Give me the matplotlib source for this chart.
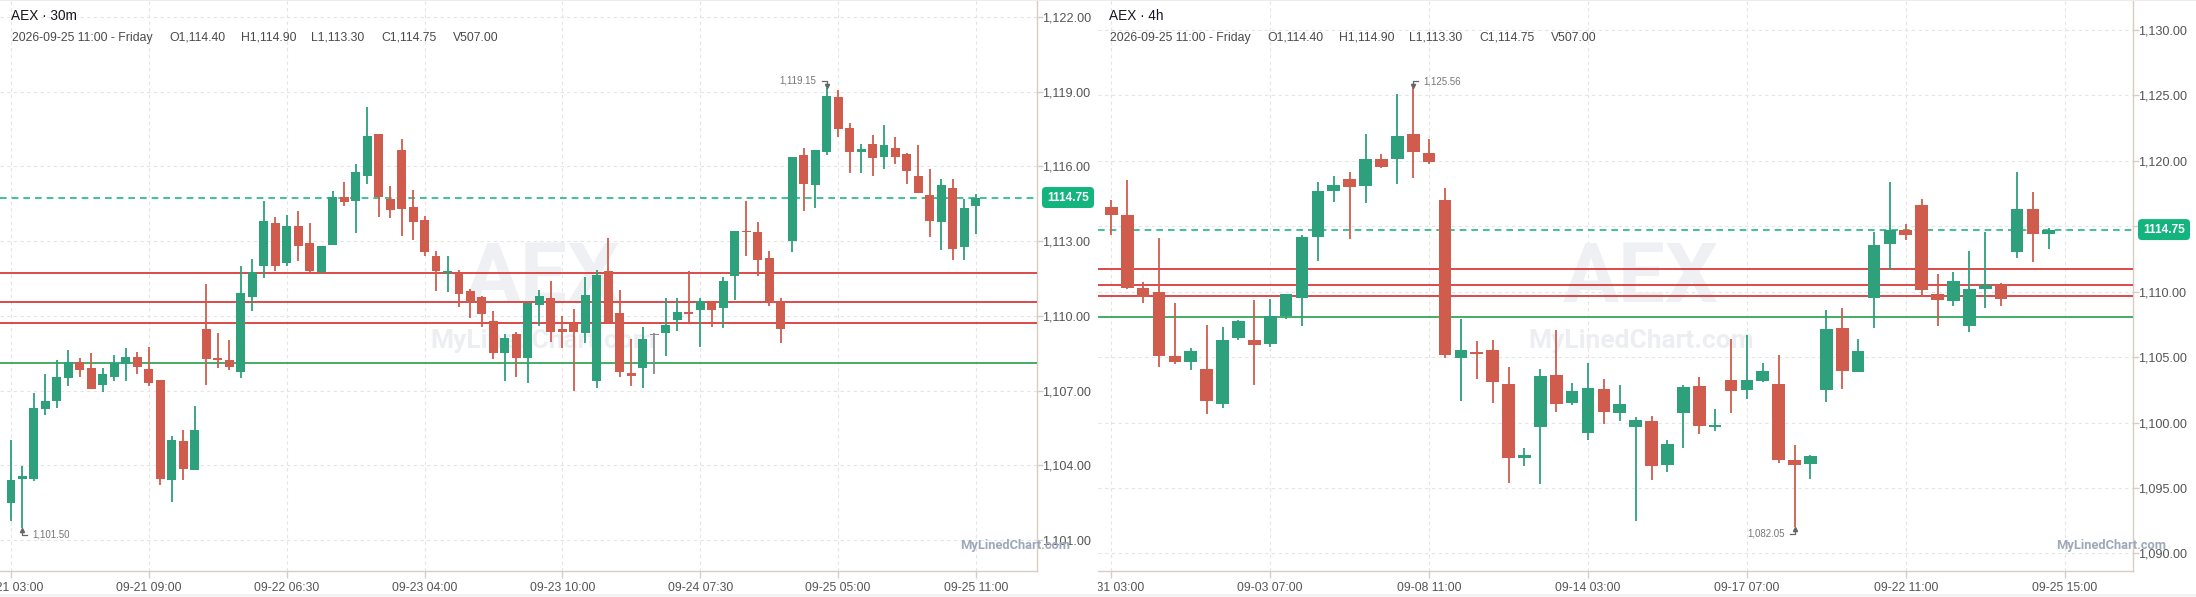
import matplotlib
matplotlib.use('Agg')
import matplotlib.pyplot as plt
from matplotlib.patches import FancyBboxPatch, Rectangle
from matplotlib.transforms import Bbox, TransformedBbox, IdentityTransform
from matplotlib.lines import Line2D

# ---------------- data ----------------
symbol = 'AEX'
header_date = '2026-09-25 11:00 - Friday'
header_ohlcv = ['O1,114.40', 'H1,114.90', 'L1,113.30', 'C1,114.75', 'V507.00']
last_price = 1114.75
red_levels = [1111.70, 1110.55, 1109.70]
green_level = 1108.10

m30_open = [1102.50, 1103.46, 1103.45, 1106.27, 1106.60, 1107.52, 1108.15, 1107.91, 1107.24, 1107.56,
            1108.05, 1108.35, 1107.87, 1107.42, 1103.42, 1104.98, 1103.83, 1109.47, 1108.31, 1108.23,
            1107.76, 1110.77, 1112.01, 1113.73, 1112.14, 1113.61, 1112.92, 1111.77, 1112.86, 1114.76,
            1114.62, 1115.63, 1117.30, 1114.69, 1116.66, 1114.37, 1113.85, 1112.40, 1111.73, 1111.71,
            1111.00, 1110.76, 1109.79, 1108.52, 1109.27, 1108.30, 1110.42, 1110.70, 1109.49, 1109.68,
            1109.30, 1107.40, 1111.78, 1110.12, 1107.72, 1107.90, 1109.25, 1109.30, 1109.83, 1110.17,
            1110.23, 1110.50, 1110.31, 1111.59, 1113.42, 1113.35, 1112.34, 1110.50, 1113.00, 1116.44,
            1115.25, 1116.58, 1118.77, 1117.53, 1116.58, 1116.88, 1116.38, 1116.72, 1116.48, 1115.60,
            1114.84, 1113.76, 1115.12, 1112.76, 1114.40]
m30_high = [1105.02, 1103.99, 1106.92, 1107.67, 1108.21, 1108.63, 1108.31, 1108.52, 1107.91, 1108.43,
            1108.71, 1108.56, 1108.75, 1107.42, 1105.18, 1105.42, 1106.38, 1111.28, 1109.30, 1109.03,
            1112.00, 1112.28, 1114.61, 1113.97, 1114.05, 1114.21, 1113.73, 1112.80, 1115.01, 1115.37,
            1116.10, 1118.38, 1117.30, 1115.21, 1117.10, 1115.05, 1114.01, 1112.62, 1112.42, 1111.85,
            1111.08, 1110.81, 1110.19, 1109.28, 1109.35, 1110.50, 1111.03, 1111.38, 1110.01, 1110.29,
            1111.54, 1111.82, 1113.13, 1111.02, 1109.05, 1109.55, 1109.32, 1110.71, 1110.71, 1111.80,
            1110.71, 1110.60, 1111.57, 1113.39, 1114.63, 1113.75, 1112.59, 1110.70, 1116.36, 1116.72,
            1116.66, 1119.15, 1119.08, 1117.73, 1116.88, 1117.25, 1117.65, 1117.17, 1116.52, 1116.84,
            1115.88, 1115.48, 1115.48, 1114.71, 1114.90]
m30_low = [1101.78, 1101.50, 1103.38, 1106.03, 1106.31, 1107.20, 1107.56, 1107.08, 1106.93, 1107.40,
           1107.40, 1107.68, 1107.20, 1103.22, 1102.54, 1103.42, 1103.83, 1107.24, 1107.91, 1107.84,
           1107.52, 1110.21, 1111.53, 1111.81, 1112.01, 1112.22, 1111.71, 1111.71, 1112.86, 1114.42,
           1113.34, 1115.31, 1113.98, 1113.94, 1113.22, 1113.06, 1112.42, 1111.01, 1110.97, 1110.37,
           1109.93, 1109.57, 1108.28, 1107.40, 1107.56, 1107.30, 1109.59, 1108.94, 1108.70, 1107.00,
           1108.90, 1107.10, 1109.70, 1107.54, 1107.20, 1107.10, 1107.67, 1108.38, 1109.38, 1109.75,
           1108.74, 1109.55, 1109.50, 1110.63, 1112.40, 1111.59, 1110.39, 1108.89, 1112.56, 1114.21,
           1114.33, 1116.46, 1117.18, 1115.73, 1115.73, 1115.61, 1115.89, 1116.08, 1115.29, 1114.93,
           1113.16, 1112.64, 1112.24, 1112.24, 1113.30]
m30_close = [1103.41, 1103.57, 1106.30, 1106.58, 1107.55, 1108.15, 1107.84, 1107.08, 1107.67, 1108.11,
             1108.35, 1107.96, 1107.32, 1103.46, 1105.02, 1103.87, 1105.42, 1108.28, 1108.24, 1107.96,
             1110.92, 1111.76, 1113.81, 1112.01, 1113.61, 1112.82, 1111.81, 1112.80, 1114.76, 1114.58,
             1115.78, 1117.22, 1114.78, 1114.26, 1114.30, 1113.78, 1112.58, 1111.81, 1111.81, 1110.88,
             1110.54, 1110.07, 1108.52, 1109.11, 1108.32, 1110.50, 1110.78, 1109.34, 1109.34, 1109.34,
             1110.82, 1111.62, 1109.75, 1107.74, 1107.58, 1109.05, 1109.25, 1109.63, 1110.17, 1110.09,
             1110.60, 1110.23, 1111.38, 1113.39, 1113.36, 1112.26, 1110.56, 1109.46, 1116.36, 1115.29,
             1116.66, 1118.81, 1117.50, 1116.58, 1116.68, 1116.33, 1116.84, 1116.38, 1115.81, 1114.93,
             1113.80, 1115.24, 1112.68, 1114.31, 1114.75]
m30_tick_pos = [0, 12, 24, 36, 48, 60, 72, 84]
m30_tick_labels = ['09-21 03:00', '09-21 09:00', '09-22 06:30', '09-23 04:00',
                   '09-23 10:00', '09-24 07:30', '09-25 05:00', '09-25 11:00']
m30_yticks = [1101, 1104, 1107, 1110, 1113, 1116, 1119, 1122]
m30_marks = [(71, 1119.15, '1,119.15', 'high', 'left'), (1, 1101.50, '1,101.50', 'low', 'right')]

h4_open = [1116.49, 1115.89, 1110.27, 1109.96, 1105.10, 1104.59, 1104.11, 1101.41, 1106.49, 1106.32,
           1106.04, 1108.11, 1109.53, 1114.16, 1117.73, 1118.62, 1118.11, 1120.14, 1120.16, 1122.04,
           1120.59, 1117.03, 1104.97, 1105.41, 1105.56, 1102.97, 1097.30, 1099.66, 1103.66, 1101.48,
           1099.20, 1102.59, 1100.74, 1099.67, 1100.10, 1096.77, 1100.74, 1102.77, 1099.67, 1103.23,
           1102.49, 1103.15, 1102.92, 1097.15, 1096.85, 1102.49, 1107.19, 1103.86, 1109.50, 1113.62,
           1114.74, 1116.65, 1109.86, 1109.28, 1107.37, 1110.19, 1110.52, 1113.01, 1116.34, 1114.40]
h4_high = [1117.03, 1118.57, 1110.72, 1114.14, 1109.13, 1105.71, 1107.46, 1107.30, 1107.84, 1109.35,
           1109.43, 1109.81, 1114.37, 1118.39, 1118.85, 1119.15, 1122.06, 1120.52, 1125.08, 1125.56,
           1121.66, 1117.94, 1107.91, 1106.24, 1106.32, 1104.27, 1098.04, 1104.11, 1107.08, 1103.05,
           1104.57, 1103.35, 1102.85, 1100.43, 1100.48, 1098.65, 1102.85, 1103.46, 1101.02, 1106.35,
           1106.66, 1104.52, 1105.13, 1098.27, 1097.53, 1108.64, 1108.79, 1106.35, 1114.59, 1118.40,
           1115.20, 1117.10, 1111.38, 1111.54, 1113.14, 1114.59, 1110.70, 1119.16, 1117.64, 1114.90]
h4_low = [1114.32, 1110.19, 1109.15, 1104.22, 1104.44, 1103.99, 1100.65, 1101.10, 1106.34, 1102.85,
          1105.81, 1107.94, 1107.41, 1112.34, 1116.87, 1114.01, 1116.75, 1119.48, 1118.27, 1118.72,
          1119.78, 1104.90, 1101.63, 1103.35, 1101.48, 1095.41, 1096.70, 1095.33, 1100.80, 1101.33,
          1098.67, 1099.89, 1100.13, 1092.49, 1095.61, 1096.24, 1098.07, 1099.14, 1099.36, 1100.74,
          1101.80, 1103.07, 1096.93, 1092.05, 1095.68, 1101.58, 1102.57, 1103.86, 1107.22, 1111.69,
          1113.93, 1109.58, 1107.37, 1108.89, 1106.91, 1108.74, 1108.89, 1112.55, 1112.25, 1113.30]
h4_close = [1115.84, 1110.27, 1109.61, 1105.05, 1104.59, 1105.48, 1101.63, 1106.32, 1107.76, 1105.89,
            1108.11, 1109.81, 1114.22, 1117.71, 1118.16, 1118.04, 1120.14, 1119.56, 1121.89, 1120.70,
            1119.94, 1105.13, 1105.56, 1105.25, 1103.08, 1097.30, 1097.51, 1103.58, 1101.41, 1102.44,
            1102.67, 1100.80, 1101.40, 1100.18, 1096.65, 1098.35, 1102.69, 1099.75, 1099.82, 1102.41,
            1103.23, 1103.91, 1097.15, 1096.77, 1097.43, 1107.12, 1103.94, 1105.44, 1113.60, 1114.74,
            1114.31, 1110.11, 1109.35, 1110.85, 1110.17, 1110.52, 1109.43, 1116.34, 1114.38, 1114.75]
h4_tick_pos = [0, 10, 20, 30, 40, 50, 60]
h4_tick_labels = ['08-31 03:00', '09-03 07:00', '09-08 11:00', '09-14 03:00',
                  '09-17 07:00', '09-22 11:00', '09-25 15:00']
h4_yticks = [1090, 1095, 1100, 1105, 1110, 1115, 1120, 1125, 1130]
h4_marks = [(19, 1125.56, '1,125.56', 'high', 'right'), (43, 1092.05, '1,082.05', 'low', 'left')]

# ---------------- style ----------------
W, H = 2196, 597
GREEN = '#2ea07b'
RED = '#d05c4e'
GRAY = '#8a8a8a'
AXC = '#d8cdc1'
LBL = '#555555'
FONT = 'Liberation Sans'
plt.rcParams['font.family'] = [FONT, 'DejaVu Sans']

fig = plt.figure(figsize=(W / 100, H / 100), dpi=100)
fig.patch.set_facecolor('white')
ID = IdentityTransform()

# thin top line and bottom band
fig.add_artist(Rectangle((0, H - 1), W, 1, transform=ID, fc='#ececec', ec='none'))
fig.add_artist(Rectangle((0, 0), W, 3, transform=ID, fc='#f3f3f3', ec='none'))


def panel(px0, pxr, panel_x1, xlim, ylim, o, h, l, c, tpos, tlabels, yticks, interval, marks,
          body_w, min_body_px):
    ax = fig.add_axes([px0 / W, 26 / H, (pxr - px0) / W, 571 / H])
    ax.set_facecolor('none')
    ax.set_xlim(*xlim)
    ax.set_ylim(*ylim)
    ppu = 571 / (ylim[1] - ylim[0])
    min_h = min_body_px / ppu
    for i, (oo, hh, ll, cc) in enumerate(zip(o, h, l, c)):
        col = GREEN if cc > oo else (RED if cc < oo else GRAY)
        ax.vlines(i, ll, hh, color=col, lw=1.3, zorder=3)
        ht = abs(cc - oo)
        bot = min(oo, cc)
        if ht < min_h:
            bot -= (min_h - ht) / 2
            ht = min_h
        ax.bar(i, ht, bottom=bot, width=body_w, color=col, lw=0, zorder=4)
    for v in red_levels:
        ax.axhline(v, color='#d62a2a', lw=1.2, zorder=2.6)
    ax.axhline(green_level, color='#23a04d', lw=1.2, zorder=2.6)
    ax.axhline(last_price, color='#22b585', lw=1.2, ls=(0, (4, 3)), zorder=2.7)

    ax.set_xticks(tpos)
    ax.set_xticklabels(tlabels)
    ax.yaxis.tick_right()
    ax.set_yticks(yticks)
    ax.set_yticklabels([f'{v:,.2f}' for v in yticks])
    ax.tick_params(axis='x', length=5, width=1, color=AXC, pad=3, labelsize=8.7, labelcolor=LBL)
    ax.tick_params(axis='y', length=4, width=1, color=AXC, pad=0, labelsize=9.1, labelcolor=LBL)
    ax.grid(True, color='#e4e4e4', lw=0.8, ls=(0, (3, 3)))
    ax.set_axisbelow(True)
    for s in ['top', 'left']:
        ax.spines[s].set_visible(False)
    for s in ['right', 'bottom']:
        ax.spines[s].set_color(AXC)
        ax.spines[s].set_linewidth(1)
    clipbox = TransformedBbox(Bbox.from_extents(px0 / W, 0, panel_x1 / W, 1), fig.transFigure)
    for t in ax.get_xticklabels():
        t.set_clip_box(clipbox)
        t.set_clip_on(True)

    # current price tag position; tick labels hidden under the tag
    yd = ax.transData.transform((0, last_price))[1]
    for v, t in zip(yticks, ax.get_yticklabels()):
        if abs(ax.transData.transform((0, v))[1] - yd) < 14:
            t.set_visible(False)

    # watermark (behind candles)
    cx = (px0 + panel_x1) / 2 - 6
    ax.text(cx, H - 302, symbol, transform=ID, ha='center', va='baseline', fontsize=60,
            fontweight='bold', family='Roboto', color='#eff0f3', zorder=1, clip_on=False)
    ax.text(cx, H - 348, 'MyLinedChart.com', transform=ID, ha='center', va='baseline', fontsize=19,
            fontweight='bold', family='Roboto', color='#eceef2', zorder=1, clip_on=False)

    # small brand label bottom right
    fig.text(pxr + 33, H - 549, 'MyLinedChart.com', transform=ID, ha='right', va='baseline',
             fontsize=9.3, fontweight='bold', family='Roboto', color='#9da8bb')

    # title and header
    fig.text(px0 + 11, H - 16, f'{symbol} · {interval}', transform=ID, ha='left', va='center',
             fontsize=9.8, color='#131722')
    offs = [0, 157, 229, 299.5, 369, 440.5]
    for off, s in zip(offs, [header_date] + header_ohlcv):
        fig.text(px0 + 12 + off, H - 38, s, transform=ID, ha='left', va='center',
                 fontsize=8.8, color='#4a4a4a')

    # current price tag
    bx = pxr + 5
    fig.add_artist(FancyBboxPatch((bx, yd - 10.5), 52, 21, boxstyle='round,pad=0,rounding_size=4',
                                  transform=ID, fc='#14b47f', ec='none', zorder=5))
    fig.text(bx + 26, yd, f'{last_price:.2f}', transform=ID, ha='center', va='center',
             fontsize=8.6, fontweight='bold', color='white', zorder=6)

    # high / low markers
    for i, price, label, kind, side in marks:
        x, y = ax.transData.transform((i, price))
        sgn = 1 if kind == 'high' else -1
        tip = y + sgn * 2
        lev = y + sgn * 7
        dx = -5 if side == 'left' else 5
        fig.add_artist(Line2D([x + dx, x, x], [lev, lev, tip], transform=ID, color='#666666',
                              lw=0.9, zorder=6))
        fig.add_artist(Line2D([x], [tip], transform=ID, marker='v' if kind == 'high' else '^',
                              markersize=3, color='#666666', lw=0, zorder=6))
        tx = x + dx + (-5 if side == 'left' else 5)
        fig.text(tx, lev, label, transform=ID, ha='right' if side == 'left' else 'left',
                 va='center', fontsize=7, color='#777777', zorder=6)
    return ax


ax1 = panel(0, 1037, 1098, (-0.958, 89.32), (1099.755, 1122.68),
            m30_open, m30_high, m30_low, m30_close, m30_tick_pos, m30_tick_labels, m30_yticks,
            '30m', m30_marks, 0.78, 1.5)
ax2 = panel(1098, 2133, 2196, (-0.837, 64.3), (1088.65, 1132.3),
            h4_open, h4_high, h4_low, h4_close, h4_tick_pos, h4_tick_labels, h4_yticks,
            '4h', h4_marks, 0.8, 1.5)

fig.savefig('out.png', dpi=100, facecolor='white')
